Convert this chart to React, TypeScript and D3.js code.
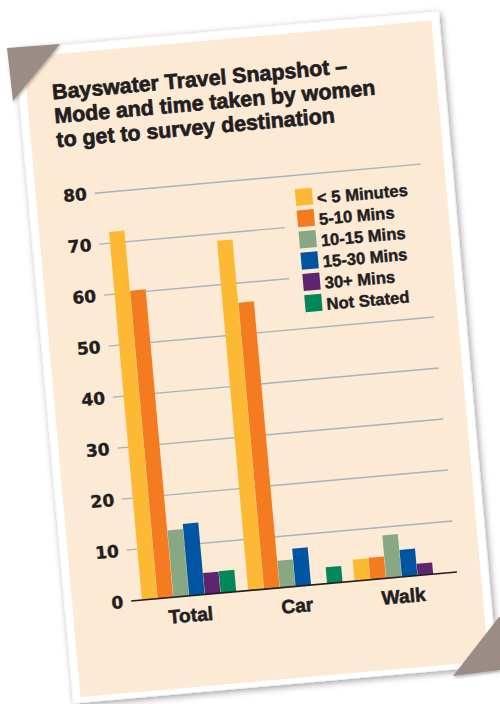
import React from 'react';
import * as d3 from 'd3';

const categories = ['Total', 'Car', 'Walk'];
const seriesNames = ['< 5 Minutes', '5-10 Mins', '10-15 Mins', '15-30 Mins', '30+ Mins', 'Not Stated'];
const seriesColors = ['#FDB933', '#F47B20', '#87A883', '#0055A3', '#5E246E', '#00875A'];
const under5 = [72.2, 68.6, 4.2];
const min5to10 = [60.4, 56.2, 4.3];
const min10to15 = [13.1, 5.3, 8.4];
const min15to30 = [14.1, 7.4, 5.3];
const min30plus = [4.2, 0, 2.3];
const notStated = [4.3, 3.2, 0];
const yTicks = [0, 10, 20, 30, 40, 50, 60, 70, 80];
const titleLines = [
  'Bayswater Travel Snapshot \u2013',
  'Mode and time taken by women',
  'to get to survey destination',
];

const seriesValues = [under5, min5to10, min10to15, min15to30, min30plus, notStated];

const W = 500;
const H = 704;
const CX = 256;
const CY = 357;
const ANGLE = -5.1;
const BEIGE = '#FCEAD4';
const INK = '#221E1F';
const TAPE = '#9B8D86';

export default function App() {
  const y = d3.scaleLinear().domain([0, 80]).range([589, 179.5]);
  const x0 = d3.scaleBand<string>().domain(categories).range([120.7, 429.3]).paddingInner(0.11).paddingOuter(0);
  const x1 = d3.scaleBand<string>().domain(seriesNames).range([0, x0.bandwidth()]).padding(0);
  const gridX0 = 110;
  const gridX1 = 437;

  const legendX = 309.5;
  const legendY = 193.3;
  const legendStep = 21.3;

  return (
    <div>
      <style>{'body{margin:0;background:#fff}'}</style>
      <svg width={W} height={H} viewBox={`0 0 ${W} ${H}`} style={{ display: 'block' }}>
        <defs>
          <filter id="cardShadow" x="-10%" y="-10%" width="120%" height="120%">
            <feDropShadow dx="1.5" dy="2" stdDeviation="3.5" floodColor="#000" floodOpacity="0.42" />
          </filter>
          <filter id="tapeShadow" x="-20%" y="-20%" width="140%" height="140%">
            <feDropShadow dx="1" dy="1.5" stdDeviation="1.5" floodColor="#000" floodOpacity="0.3" />
          </filter>
        </defs>
        <rect x={0} y={0} width={W} height={H} fill="#fff" />
        <g transform={`rotate(${ANGLE}, ${CX}, ${CY})`}>
          {/* card */}
          <rect x={43.5} y={29.3} width={425} height={656.4} fill="#fff" filter="url(#cardShadow)" />
          <rect x={51} y={37.5} width={409.6} height={642.9} fill={BEIGE} />

          {/* title */}
          {titleLines.map((t, i) => (
            <text
              key={t}
              x={76.5}
              y={82.4 + i * 24}
              fontFamily="'Liberation Sans', Arial, sans-serif"
              fontWeight="bold"
              fontSize={21.4}
              fill={INK}
              stroke={INK}
              strokeWidth={0.7}
            >
              {t}
            </text>
          ))}

          {/* gridlines */}
          {yTicks.filter((t) => t > 0).map((t) => (
            <line key={`g${t}`} x1={gridX0} x2={gridX1} y1={y(t)} y2={y(t)} stroke="#AAB0BC" strokeWidth={1.4} />
          ))}

          {/* tick labels */}
          {yTicks.map((t) => (
            <text
              key={`t${t}`}
              x={102}
              y={y(t)}
              dy="0.36em"
              textAnchor="end"
              fontFamily="'DejaVu Sans', sans-serif"
              fontWeight="bold"
              fontSize={17}
              fill={INK}
              stroke={INK}
              strokeWidth={0.4}
            >
              {t}
            </text>
          ))}

          {/* legend background (hides gridlines) */}
          <rect x={296} y={186} width={150} height={139} fill={BEIGE} />

          {/* bars */}
          {categories.map((c, ci) => (
            <g key={c} transform={`translate(${x0(c)},0)`}>
              {seriesNames.map((s, si) => {
                const v = seriesValues[si][ci];
                if (!v) return null;
                return (
                  <rect
                    key={s}
                    x={x1(s)}
                    y={y(v)}
                    width={x1.bandwidth() - 0.3}
                    height={y(0) - y(v)}
                    fill={seriesColors[si]}
                  />
                );
              })}
            </g>
          ))}

          {/* axis line */}
          <line x1={gridX0} x2={gridX1} y1={y(0)} y2={y(0)} stroke={INK} strokeWidth={1.6} />

          {/* category labels */}
          {categories.map((c) => (
            <text
              key={`c${c}`}
              x={(x0(c) as number) + x0.bandwidth() / 2}
              y={615}
              textAnchor="middle"
              fontFamily="'Liberation Sans', Arial, sans-serif"
              fontWeight="bold"
              fontSize={19.2}
              fill={INK}
              stroke={INK}
              strokeWidth={0.55}
            >
              {c}
            </text>
          ))}

          {/* legend */}
          {seriesNames.map((s, i) => (
            <g key={`l${s}`}>
              <rect x={legendX} y={legendY + i * legendStep} width={17} height={17} fill={seriesColors[i]} />
              <text
                x={331}
                y={legendY + i * legendStep + 16.5}
                fontFamily="'Liberation Sans', Arial, sans-serif"
                fontWeight="bold"
                fontSize={16.6}
                fill={INK}
                stroke={INK}
                strokeWidth={0.45}
              >
                {s}
              </text>
            </g>
          ))}
        </g>

        {/* tapes */}
        <polygon points="7,48 60,44 13,101" fill={TAPE} filter="url(#tapeShadow)" />
        <polygon points="453,676 499,617 500,617 500,670" fill={TAPE} filter="url(#tapeShadow)" />
      </svg>
    </div>
  );
}
